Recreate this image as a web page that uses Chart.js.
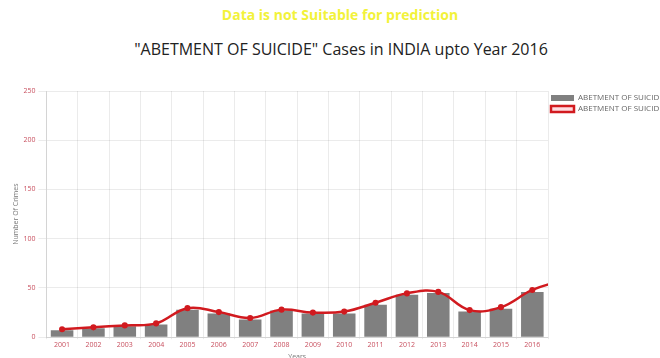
<!DOCTYPE html>
<html>
<head>
<meta charset="utf-8">
<script src="https://cdn.jsdelivr.net/npm/chart.js@4"></script>
<style>
  body { margin: 0; width: 660px; height: 358px; overflow: hidden; background: #fff; font-family: 'Open Sans', sans-serif; }
  .warn { position: absolute; top: 5px; left: 0; width: 680px; text-align: center; color: #f2f23a; font-weight: bold; font-size: 14px; }
  .title { position: absolute; top: 38px; left: 0; width: 682px; text-align: center; color: #222; font-size: 16px; }
  .box { position: absolute; top: 80px; left: 0; width: 660px; height: 285px; }
</style>
</head>
<body>
<div class="warn">Data is not Suitable for prediction</div>
<div class="title">"ABETMENT OF SUICIDE" Cases in INDIA upto Year 2016</div>
<div class="box"><canvas id="chart"></canvas></div>
<script>
// years on the x axis; 2017 only carries the tail of the curve and is cut off by the axis
const years = ["2001", "2002", "2003", "2004", "2005", "2006", "2007", "2008",
               "2009", "2010", "2011", "2012", "2013", "2014", "2015", "2016", "2017"];
const lastShownYear = "2016";

// bar values (cases per year)
const cases = [7, 9, 11, 13, 28, 24, 18, 27, 24, 24, 33, 43, 45, 26, 29, 46];

// curve drawn over the bars, runs one step past 2016
const trend = [8, 10, 12, 14, 29.5, 25.5, 19.5, 28, 25, 26, 35, 44.5, 46, 27.5, 30.5, 48, 58];

const seriesName = "ABETMENT OF SUICIDE";

Chart.defaults.font.family = "'Open Sans', sans-serif";

const chart = new Chart(document.getElementById("chart"), {
    type: "bar",
    data: {
        labels: years,
        datasets: [
            {
                type: "line",
                label: seriesName,
                data: trend,
                borderColor: "#d11a1f",
                backgroundColor: "rgba(255, 220, 225, 1)",
                pointBackgroundColor: "#d11a1f",
                pointBorderColor: "#d11a1f",
                pointRadius: 1.8,
                borderWidth: 2.5,
                tension: 0.4,
                fill: false,
                clip: 0,
                order: 0,
            },
            {
                label: seriesName,
                data: cases,
                backgroundColor: "#808080",
                order: 1,
            },
        ],
    },
    options: {
        responsive: true,
        maintainAspectRatio: false,
        animation: false,
        layout: { padding: { left: 3, top: 11, right: 0, bottom: 0 } },
        plugins: {
            legend: {
                position: "right",
                align: "start",
                maxWidth: 112,
                reverse: true,
                labels: {
                    boxWidth: 23,
                    boxHeight: 6,
                    padding: 3,
                    color: "#666",
                    font: { size: 8 },
                },
            },
            tooltip: { enabled: false },
        },
        scales: {
            x: {
                // stop the axis at 2016 but still let the curve run on past the edge
                afterDataLimits: (scale) => { scale.max = years.indexOf(lastShownYear); },
                ticks: { color: "#c8505f", font: { size: 7 }, padding: 2 },
                grid: { color: "rgba(0,0,0,0.08)", tickLength: 2 },
                title: { display: true, text: "Years", color: "#777", font: { size: 7 }, padding: { top: 1, bottom: 4 } },
            },
            y: {
                min: 0,
                max: 250,
                ticks: { stepSize: 50, color: "#c8505f", font: { size: 7 } },
                grid: { color: "rgba(0,0,0,0.08)" },
                title: { display: true, text: "Number Of Crimes", color: "#777", font: { size: 7 }, padding: { top: 9, bottom: 0 } },
            },
        },
    },
});
</script>
</body>
</html>
